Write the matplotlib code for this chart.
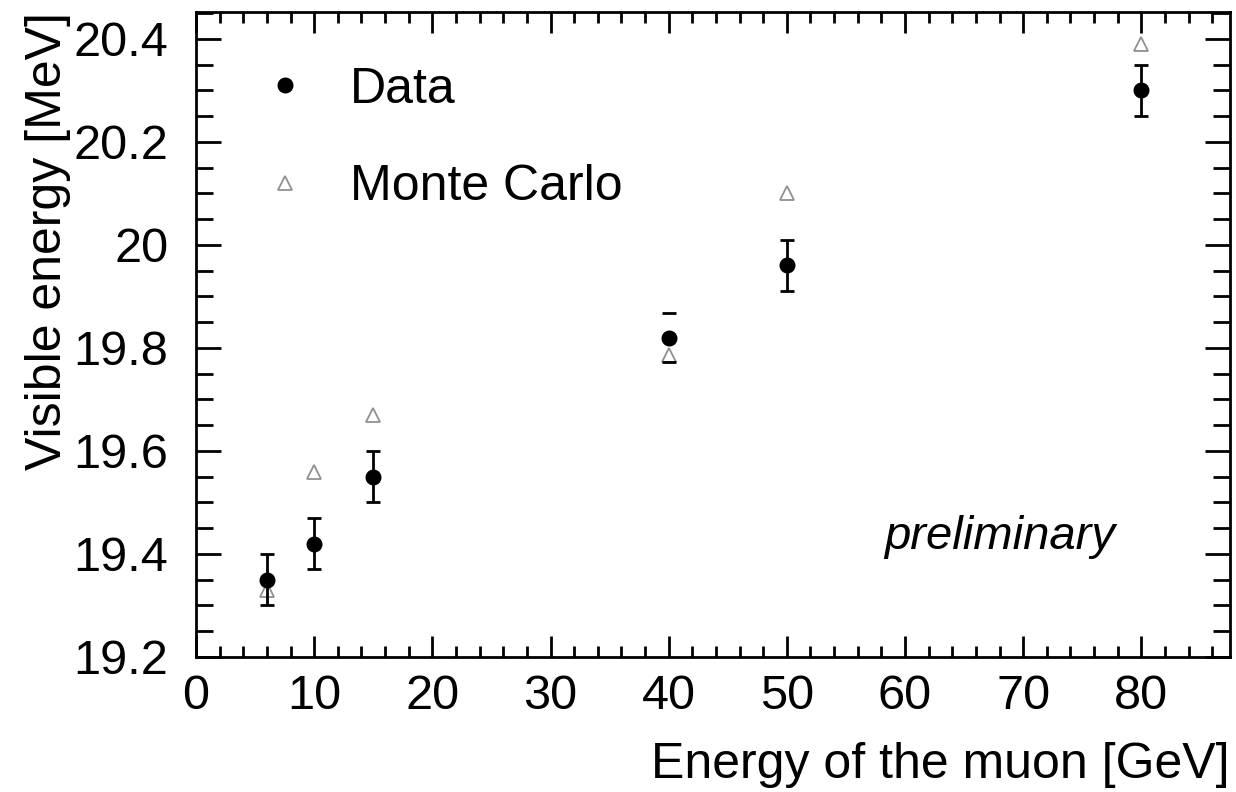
import numpy as np
import matplotlib.pyplot as plt
from matplotlib.ticker import MultipleLocator

plt.rcParams['font.family'] = ['Liberation Sans', 'DejaVu Sans']

# muon energy [GeV]
energy = [6, 10, 15, 40, 50, 80]
# measured visible energy [MeV] and its error
data_vis = [19.35, 19.42, 19.55, 19.82, 19.96, 20.30]
data_err = [0.05, 0.05, 0.05, 0.047, 0.05, 0.05]
# simulation
mc_vis = [19.33, 19.56, 19.67, 19.786, 20.10, 20.39]

fig = plt.figure(figsize=(12.36, 7.92), dpi=100)
ax = fig.add_axes([0.1586, 0.1705, 0.8365, 0.8143])

# triangles first so data sit on top
ax.plot(energy, mc_vis, linestyle='none', marker='^', markersize=10,
        markerfacecolor='white', markeredgecolor='#909090', markeredgewidth=1.3,
        label='Monte Carlo', zorder=2)

# error bars (the 40 GeV point only shows caps)
for x, y, e in zip(energy, data_vis, data_err):
    elw = 0 if x == 40 else 2
    ax.errorbar([x], [y], yerr=[e], fmt='none', ecolor='black',
                elinewidth=elw, capsize=5, capthick=2, zorder=3)
ax.plot(energy, data_vis, linestyle='none', marker='o', markersize=10.5,
        color='black', label='Data', zorder=4)

ax.set_xlim(0, 87.5)
ax.set_ylim(19.2, 20.452)
ax.xaxis.set_major_locator(MultipleLocator(10))
ax.xaxis.set_minor_locator(MultipleLocator(2))
ax.yaxis.set_minor_locator(MultipleLocator(0.05))
ax.set_yticks([19.2, 19.4, 19.6, 19.8, 20.0, 20.2, 20.4])
ax.set_yticklabels(['19.2', '19.4', '19.6', '19.8', '20', '20.2', '20.4'])

ax.tick_params(which='both', direction='in', top=True, right=True,
               labelsize=35, width=2, colors='black')
ax.tick_params(axis='x', which='major', length=15, pad=12)
ax.tick_params(axis='x', which='minor', length=8)
ax.tick_params(axis='y', which='major', length=18, pad=20)
ax.tick_params(axis='y', which='minor', length=12)
for s in ax.spines.values():
    s.set_linewidth(2)

ax.set_xlabel('Energy of the muon [GeV]', fontsize=36, loc='right', labelpad=17)
ax.set_ylabel('Visible energy [MeV]', fontsize=36, loc='top', labelpad=2)

handles, labels = ax.get_legend_handles_labels()
ax.legend(handles[::-1], labels[::-1], loc='upper left', frameon=False,
          fontsize=36, bbox_to_anchor=(0.062, 0.915), borderpad=0,
          borderaxespad=0, handletextpad=0.8, labelspacing=1.03,
          handlelength=1.0)

ax.text(0.889, 0.186, 'preliminary', transform=ax.transAxes, fontsize=34,
        style='italic', ha='right', va='center')

fig.savefig('out.png', dpi=100)
